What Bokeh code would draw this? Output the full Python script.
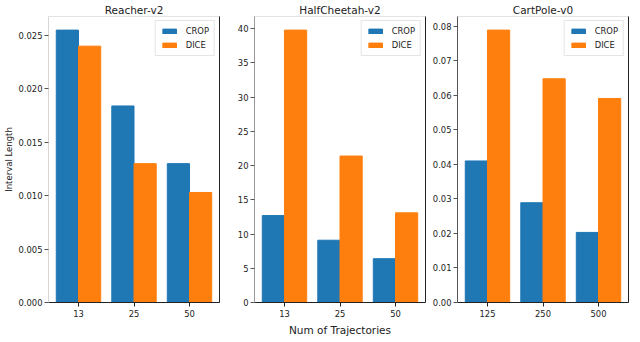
from bokeh.plotting import figure
from bokeh.layouts import row
from bokeh.models import (ColumnDataSource, Range1d, FixedTicker, NumeralTickFormatter,
                          LinearAxis, Legend, LegendItem)
from bokeh.transform import dodge
from bokeh.embed import file_html
from bokeh.resources import INLINE

# ---- data ----
envs = ["Reacher-v2", "HalfCheetah-v2", "CartPole-v0"]
traj_labels = [["13", "25", "50"], ["13", "25", "50"], ["125", "250", "500"]]
crop = [[0.0255, 0.0184, 0.0130], [12.7, 9.1, 6.4], [0.0410, 0.0289, 0.0203]]
dice = [[0.0240, 0.0130, 0.0103], [39.8, 21.4, 13.1], [0.0789, 0.0648, 0.0591]]
yticks = [[0.0, 0.005, 0.010, 0.015, 0.020, 0.025],
          [0, 5, 10, 15, 20, 25, 30, 35, 40],
          [0.0, 0.01, 0.02, 0.03, 0.04, 0.05, 0.06, 0.07, 0.08]]
yfmt = ["0.000", "0", "0.00"]
series_names = ["CROP", "DICE"]
colors = ["#1f77b4", "#ff7f0e"]
xlabel = "Num of Trajectories"
ylabel = "Interval Length"

FONT = "DejaVu Sans"
TXT = "#222222"
TICK_FS = "8.4px"
left_spine = ["#d6d6d6", "#9a9a9a", "#555555"]
left_border = [40, 31, 30]
right_border = [4, 2, 2]

figs = []
for i in range(3):
    src = ColumnDataSource(dict(x=[0, 1, 2], crop=crop[i], dice=dice[i]))
    ymax = max(max(crop[i]), max(dice[i])) * 1.05
    p = figure(frame_width=171, frame_height=286, output_backend="svg",
               toolbar_location=None, x_range=Range1d(-0.54, 2.54),
               y_range=Range1d(0, ymax), min_border_left=left_border[i],
               min_border_right=right_border[i], min_border_top=0, min_border_bottom=2)
    r1 = p.vbar(x=dodge("x", -0.2, range=p.x_range), top="crop", width=0.4, source=src,
                fill_color=colors[0], line_color=colors[0])
    r2 = p.vbar(x=dodge("x", 0.2, range=p.x_range), top="dice", width=0.4, source=src,
                fill_color=colors[1], line_color=colors[1])
    p.xgrid.visible = False
    p.ygrid.visible = False
    p.outline_line_color = "#e3e3e3"
    p.background_fill_color = "white"
    p.border_fill_color = "white"

    p.title.text = envs[i]
    p.title.align = "center"
    p.title.text_font = FONT
    p.title.text_font_size = "10.5px"
    p.title.text_font_style = "normal"
    p.title.text_color = TXT
    p.title.standoff = 2

    xa = p.xaxis[0]
    xa.ticker = FixedTicker(ticks=[0, 1, 2])
    xa.major_label_overrides = {0: traj_labels[i][0], 1: traj_labels[i][1], 2: traj_labels[i][2]}
    xa.minor_tick_line_color = None
    xa.major_tick_in = 0
    xa.major_tick_out = 4
    xa.major_label_standoff = 3
    xa.major_label_text_font = FONT
    xa.major_label_text_font_size = TICK_FS
    xa.major_label_text_color = TXT
    xa.axis_line_color = "#222222"
    xa.major_tick_line_color = "#222222"
    if i == 1:
        xa.axis_label = xlabel
        xa.axis_label_text_font = FONT
        xa.axis_label_text_font_size = "10.5px"
        xa.axis_label_text_font_style = "normal"
        xa.axis_label_text_color = TXT
        xa.axis_label_standoff = 4

    ya = p.yaxis[0]
    ya.ticker = FixedTicker(ticks=yticks[i])
    ya.formatter = NumeralTickFormatter(format=yfmt[i])
    ya.minor_tick_line_color = None
    ya.major_tick_in = 0
    ya.major_tick_out = 4
    ya.major_label_standoff = 2
    ya.major_label_text_font = FONT
    ya.major_label_text_font_size = TICK_FS
    ya.major_label_text_color = TXT
    ya.axis_line_color = left_spine[i]
    ya.major_tick_line_color = "#555555"
    if i == 0:
        ya.axis_label = ylabel
        ya.axis_label_text_font = FONT
        ya.axis_label_text_font_size = "8.5px"
        ya.axis_label_text_font_style = "normal"
        ya.axis_label_text_color = TXT
        ya.axis_label_standoff = 2

    ra = LinearAxis(ticker=FixedTicker(ticks=[]), major_tick_in=0, major_tick_out=0,
                    minor_tick_in=0, minor_tick_out=0, major_label_standoff=0,
                    major_label_text_font_size="0px", axis_line_color="#222222")
    p.add_layout(ra, "right")

    legend = Legend(items=[LegendItem(label=series_names[0], renderers=[r1]),
                           LegendItem(label=series_names[1], renderers=[r2])],
                    location="top_right")
    legend.label_text_font = FONT
    legend.label_text_font_size = TICK_FS
    legend.label_text_color = TXT
    legend.glyph_width = 17
    legend.glyph_height = 6
    legend.label_height = 9
    legend.label_standoff = 8
    legend.padding = 5
    legend.spacing = 4
    legend.margin = 4
    legend.border_line_color = "#cccccc"
    legend.background_fill_alpha = 0.9
    p.add_layout(legend)
    figs.append(p)

layout = row(*figs, spacing=0)
open("out.html", "w").write(file_html(layout, INLINE))
